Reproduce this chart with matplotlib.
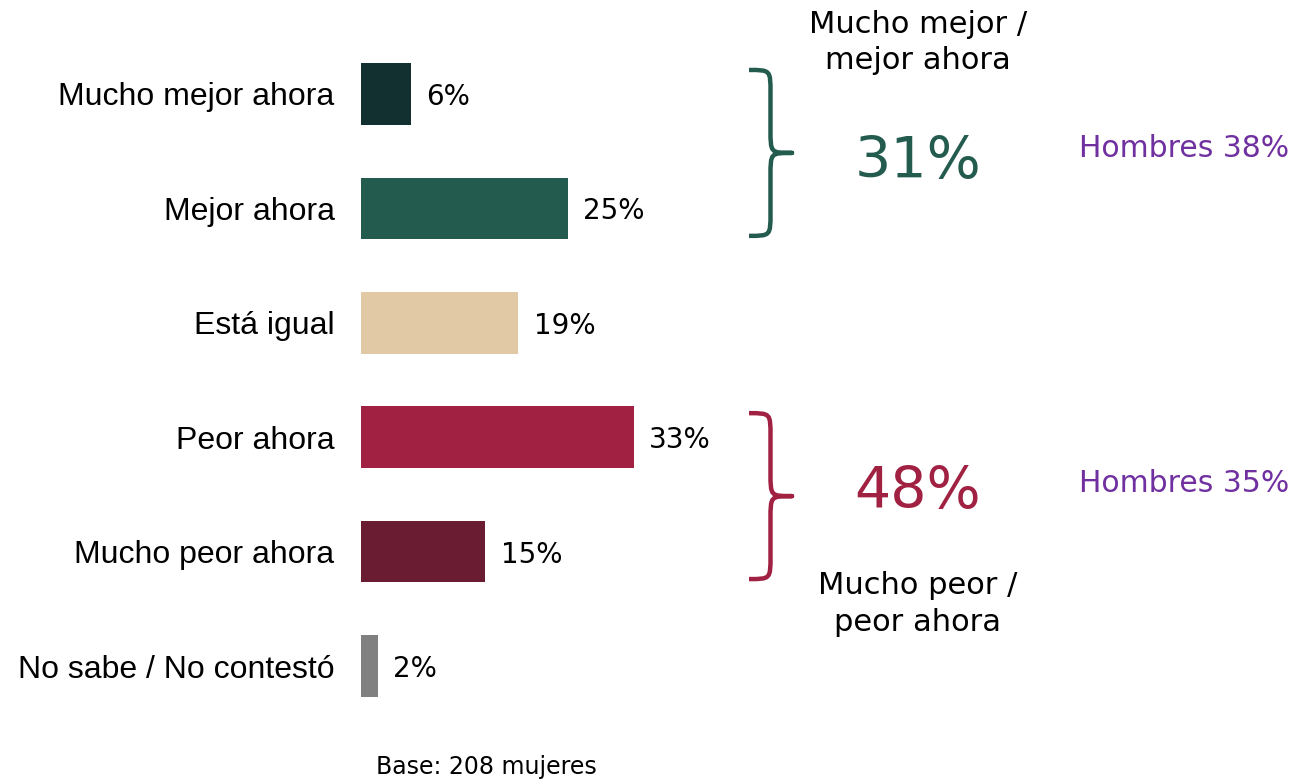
import matplotlib.pyplot as plt
from matplotlib.path import Path
from matplotlib.patches import PathPatch

categories = ['Mucho mejor ahora', 'Mejor ahora', 'Está igual', 'Peor ahora',
              'Mucho peor ahora', 'No sabe / No contestó']
values = [6, 25, 19, 33, 15, 2]
colors = ['#133030', '#235B4E', '#E0C9A4', '#A02142', '#691C32', '#808080']

group_labels = ['Mucho mejor /\nmejor ahora', 'Mucho peor /\npeor ahora']
group_values = ['31%', '48%']
group_colors = ['#235B4E', '#A02142']
group_rows = [(0, 1), (3, 4)]
men_labels = ['Hombres 38%', 'Hombres 35%']
base_note = 'Base: 208 mujeres'

W, H = 1301, 779
fig = plt.figure(figsize=(W / 100, H / 100), dpi=100)
ax = fig.add_axes([361 / W, 0, (W - 361) / W, 1])
px_per_pct = 8.26
row_px = 114.4
ax.set_xlim(0, (W - 361) / px_per_pct)
ax.set_ylim(5 + (H - 666) / row_px, -94 / row_px)
ax.axis('off')

label_font = ['Liberation Sans', 'DejaVu Sans']
num_font = ['DejaVu Sans']

y = list(range(len(categories)))
ax.barh(y, values, height=0.54, color=colors)
for i, (cat, v) in enumerate(zip(categories, values)):
    ax.text(-3.2, i, cat, ha='right', va='center_baseline', fontsize=23, family=label_font)
    ax.text(v + 1.9, i, f'{v}%', ha='left', va='center_baseline', fontsize=20, family=num_font)


def brace(x0, x1, ytop, ybot, color):
    ym = (ytop + ybot) / 2
    xm = (x0 + x1) / 2
    r = 0.2
    verts = [(x0, ytop), (xm, ytop), (xm, ytop), (xm, ytop + r),
             (xm, ym - r),
             (xm, ym), (xm, ym), (x1, ym),
             (xm, ym), (xm, ym), (xm, ym + r),
             (xm, ybot - r),
             (xm, ybot), (xm, ybot), (x0, ybot)]
    codes = [Path.MOVETO, Path.CURVE4, Path.CURVE4, Path.CURVE4,
             Path.LINETO,
             Path.CURVE4, Path.CURVE4, Path.CURVE4,
             Path.CURVE4, Path.CURVE4, Path.CURVE4,
             Path.LINETO,
             Path.CURVE4, Path.CURVE4, Path.CURVE4]
    ax.add_patch(PathPatch(Path(verts, codes), fill=False, edgecolor=color,
                           lw=3.2, capstyle='butt', joinstyle='round'))


bx0 = (749 - 361) / px_per_pct
bx1 = (792 - 361) / px_per_pct
gx = (918 - 361) / px_per_pct
hx = (1184 - 361) / px_per_pct
value_rows = [0.55, 3.43]
men_rows = [0.45, 3.38]
for k, (r0, r1) in enumerate(group_rows):
    brace(bx0, bx1, r0 - 0.21, r1 + 0.24, group_colors[k])
    ax.text(gx, value_rows[k], group_values[k], ha='center', va='center_baseline',
            fontsize=41, color=group_colors[k], family=num_font)
    ax.text(hx, men_rows[k], men_labels[k], ha='center', va='center_baseline',
            fontsize=21.5, color='#7030A0', family=num_font)

ax.text(gx, -0.45, group_labels[0], ha='center', va='center', fontsize=22,
        family=num_font, linespacing=1.33)
ax.text(gx, 4.46, group_labels[1], ha='center', va='center', fontsize=22,
        family=num_font, linespacing=1.33)

fig.text(486 / W, 1 - 767 / H, base_note, ha='center', va='center', fontsize=17,
         family=num_font)

fig.savefig('out.png', dpi=100)
